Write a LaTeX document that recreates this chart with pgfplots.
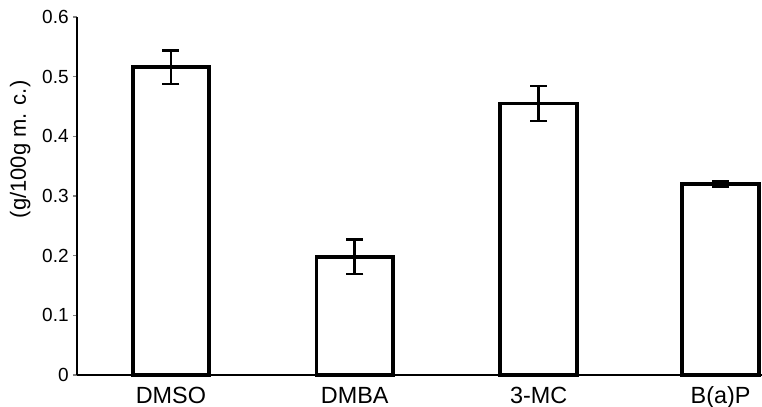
\documentclass[border=0pt]{standalone}
\usepackage{pgfplots}
\pgfplotsset{compat=1.18}
\usepackage{fontspec}
\setmainfont{Liberation Sans}
\begin{document}
\begin{tikzpicture}
\begin{axis}[
  name=ax,
  scale only axis,
  width=342.5pt, height=179pt,
  xmin=-0.511, xmax=3.215,
  ymin=0, ymax=0.6,
  axis x line*=bottom, axis y line*=left,
  axis line style={-, line width=1.3pt},
  xtick={0,1,2,2.99},
  xticklabels={DMSO,DMBA,3-MC,B(a)P},
  xtick style={draw=none},
  ytick={0,0.1,0.2,0.3,0.4,0.5,0.6},
  yticklabels={0,0.1,0.2,0.3,0.4,0.5,0.6},
  ytick style={line width=0.6pt},
  tick align=outside, major tick length=2pt,
  /pgf/number format/assume math mode=true,
  x tick label style={font=\fontsize{11.7}{13}\selectfont, text height=1.6ex, text depth=0.3ex, yshift=-0.5pt},
  y tick label style={font=\fontsize{9.5}{11}\selectfont, inner xsep=2pt},
  ylabel={(g/100g m. c.)},
  ylabel style={font=\fontsize{11}{12}\selectfont, at={(axis description cs:-0.083,0.63)}, anchor=center},
  clip=false,
]
\addplot[ybar, bar width=0.416, draw=black, line width=1.9pt, fill=white,
  error bars/.cd, y dir=both, y explicit,
  error bar style={line width=1.3pt, black},
  error mark options={line width=1.3pt, mark size=4.25pt, rotate=90, black}]
coordinates {
  (0,0.516) +- (0,0.028)
  (1,0.198) +- (0,0.029)
  (2,0.455) +- (0,0.029)
  (2.99,0.320) +- (0,0.004)
};
\end{axis}
\pgfresetboundingbox
\path ([xshift=-38.5pt,yshift=-16pt]ax.south west) rectangle ([yshift=8.5pt]ax.north east);
\end{tikzpicture}
\end{document}
